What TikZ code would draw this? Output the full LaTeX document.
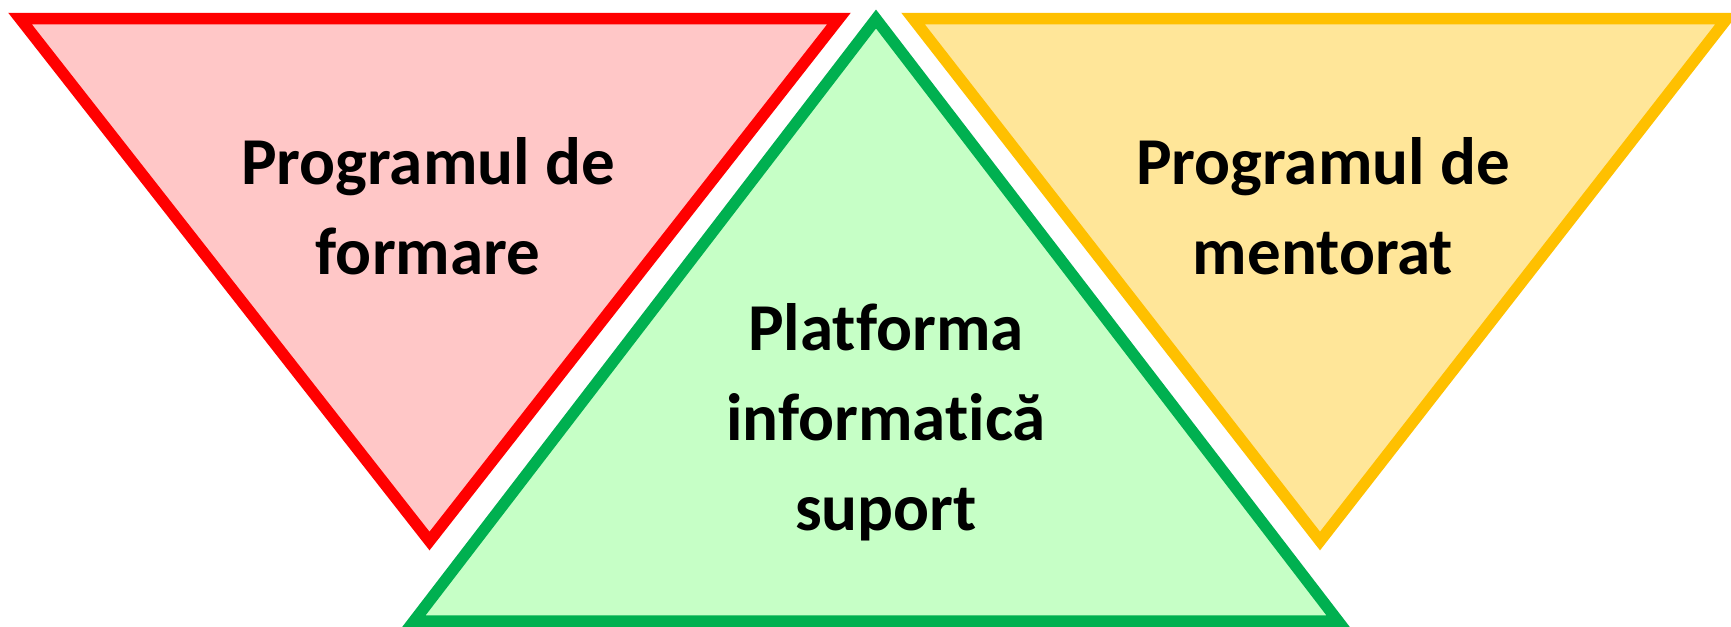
\documentclass[tikz,border=0pt]{standalone}
\usepackage{fontspec}
\setmainfont{Carlito}[Ligatures={NoCommon}]
\usepackage{tikz}
\definecolor{redline}{RGB}{255,0,0}
\definecolor{redfill}{RGB}{255,199,199}
\definecolor{greenline}{RGB}{0,176,80}
\definecolor{greenfill}{RGB}{198,255,198}
\definecolor{goldline}{RGB}{255,192,0}
\definecolor{goldfill}{RGB}{255,230,153}

\begin{document}
\begin{tikzpicture}[x=0.5pt,y=-0.5pt,line width=5.75pt,line join=miter,
	tri/.style={draw=#1line,fill=#1fill},
	caption/.style={font=\bfseries\fontsize{33.5}{45}\selectfont,align=center,inner sep=0pt}]
	\useasboundingbox (0,0) rectangle (1731,627);
	% corners of the three triangles
	\coordinate (fa) at (20,18.5);
	\coordinate (fb) at (839,18.5);
	\coordinate (fc) at (429.5,541);
	\coordinate (pa) at (876,19);
	\coordinate (pb) at (414,621);
	\coordinate (pc) at (1338,621);
	\coordinate (ma) at (913,18.5);
	\coordinate (mb) at (1727,18.5);
	\coordinate (mc) at (1320,541);

	\draw[tri=red] (fa) -- (fb) -- (fc) -- cycle;
	\draw[tri=green] (pa) -- (pb) -- (pc) -- cycle;
	\draw[tri=gold] (ma) -- (mb) -- (mc) -- cycle;

	\node[caption] (formare) at (428,206) {Programul de\\formare};
	\node[caption] (platforma) at (886,422) {Platforma\\informatică\\suport};
	\node[caption] (mentorat) at (1323,206) {Programul de\\mentorat};
\end{tikzpicture}
\end{document}
